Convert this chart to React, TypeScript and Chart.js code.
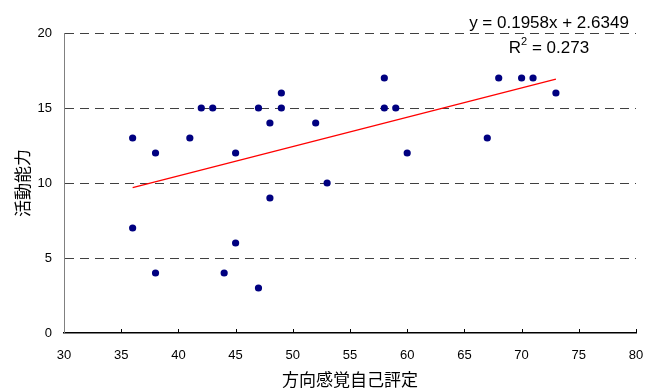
import React, { useEffect, useRef } from "react";
import { Chart, registerables } from "chart.js";

Chart.register(...registerables);

const xValues = [36, 36, 38, 38, 41, 42, 43, 44, 45, 45, 47, 47, 48, 48, 49, 49, 52, 53, 58, 58, 59, 60, 67, 68, 70, 71, 73];
const yValues = [13, 7, 12, 4, 13, 15, 15, 4, 12, 6, 15, 3, 14, 9, 16, 15, 14, 10, 17, 15, 15, 12, 13, 17, 17, 17, 16];
const trendSlope = 0.1958;
const trendIntercept = 2.6349;
const rSquared = "0.273";
const xTitle = "方向感覚自己評定";
const yTitle = "活動能力";
const xTickValues = [30, 35, 40, 45, 50, 55, 60, 65, 70, 75, 80];

const LATIN = "'Liberation Sans', Arial, sans-serif";
const CJK = "'Noto Sans CJK JP', 'Noto Sans CJK SC', sans-serif";

const W = 646;
const H = 388;

export default function App() {
  const ref = useRef<HTMLCanvasElement | null>(null);

  useEffect(() => {
    if (!ref.current) return;
    const points = xValues.map((x, i) => ({ x, y: yValues[i] }));
    const xMin = Math.min(...xValues);
    const xMax = Math.max(...xValues);
    const trend = [
      { x: xMin, y: trendSlope * xMin + trendIntercept },
      { x: xMax, y: trendSlope * xMax + trendIntercept },
    ];

    const overlay = {
      id: "overlay",
      afterDraw(chart: any) {
        const ctx = chart.ctx;
        const ca = chart.chartArea;
        const xs = chart.scales.x;
        ctx.save();
        // inner ticks on x axis
        ctx.strokeStyle = "#000";
        ctx.lineWidth = 1;
        xTickValues.forEach((v) => {
          if (v === 30) return;
          const px = Math.round(xs.getPixelForValue(v)) + 0.5;
          ctx.beginPath();
          ctx.moveTo(px, ca.bottom);
          ctx.lineTo(px, ca.bottom - 4);
          ctx.stroke();
        });
        // equation text
        ctx.fillStyle = "#000";
        ctx.textBaseline = "middle";
        ctx.textAlign = "center";
        ctx.font = `17px ${LATIN}`;
        const cx = 549;
        ctx.fillText(`y = ${trendSlope}x + ${trendIntercept}`, cx, 23);
        const rest = ` = ${rSquared}`;
        const wR = ctx.measureText("R").width;
        const wRest = ctx.measureText(rest).width;
        ctx.font = `11px ${LATIN}`;
        const w2 = ctx.measureText("2").width;
        const total = wR + w2 + wRest;
        let sx = cx - total / 2;
        ctx.textAlign = "left";
        ctx.font = `17px ${LATIN}`;
        ctx.fillText("R", sx, 48);
        sx += wR;
        ctx.font = `11px ${LATIN}`;
        ctx.fillText("2", sx, 42);
        sx += w2;
        ctx.font = `17px ${LATIN}`;
        ctx.fillText(rest, sx, 48);
        // axis titles
        ctx.font = `17px ${CJK}`;
        ctx.textAlign = "center";
        ctx.fillText(xTitle, (ca.left + ca.right) / 2, 380);
        ctx.translate(23, (ca.top + ca.bottom) / 2);
        ctx.rotate(-Math.PI / 2);
        ctx.fillText(yTitle, 0, 0);
        ctx.restore();
      },
    };

    const chart = new Chart(ref.current, {
      type: "scatter",
      data: {
        datasets: [
          {
            type: "line",
            data: trend,
            borderColor: "#ff0000",
            borderWidth: 1.3,
            pointRadius: 0,
            fill: false,
          } as any,
          {
            data: points,
            backgroundColor: "#000080",
            borderColor: "#000080",
            pointRadius: 3.6,
            pointBorderWidth: 0,
          },
        ],
      },
      options: {
        animation: false,
        responsive: false,
        layout: { padding: { top: 33, right: 10, left: 0, bottom: 0 } },
        plugins: { legend: { display: false }, tooltip: { enabled: false } },
        scales: {
          x: {
            type: "linear",
            min: 30,
            max: 80,
            afterFit: (s: any) => {
              s.height = 55;
              s.paddingLeft = 0;
              s.paddingRight = 0;
            },
            ticks: {
              stepSize: 5,
              padding: 15,
              color: "#000",
              font: { size: 13, family: LATIN },
            },
            grid: { display: false, drawTicks: false },
            border: { display: true, color: "#000", width: 1.5 },
          },
          y: {
            type: "linear",
            min: 0,
            max: 20,
            afterFit: (s: any) => {
              s.width = 64;
              s.paddingTop = 0;
              s.paddingBottom = 0;
            },
            ticks: {
              stepSize: 5,
              padding: 12,
              color: "#000",
              font: { size: 13, family: LATIN },
            },
            grid: {
              drawTicks: false,
              color: (c: any) => (c.tick && c.tick.value === 0 ? "rgba(0,0,0,0)" : "#404040"),
              lineWidth: 1,
            },
            border: { display: true, color: "#808080", width: 1, dash: [9, 6] },
          },
        },
      },
      plugins: [overlay],
    });
    return () => chart.destroy();
  }, []);

  return (
    <div style={{ position: "absolute", left: 0, top: 0, width: W, height: H, overflow: "hidden" }}>
      <canvas ref={ref} width={W} height={H} style={{ display: "block" }} />
    </div>
  );
}
